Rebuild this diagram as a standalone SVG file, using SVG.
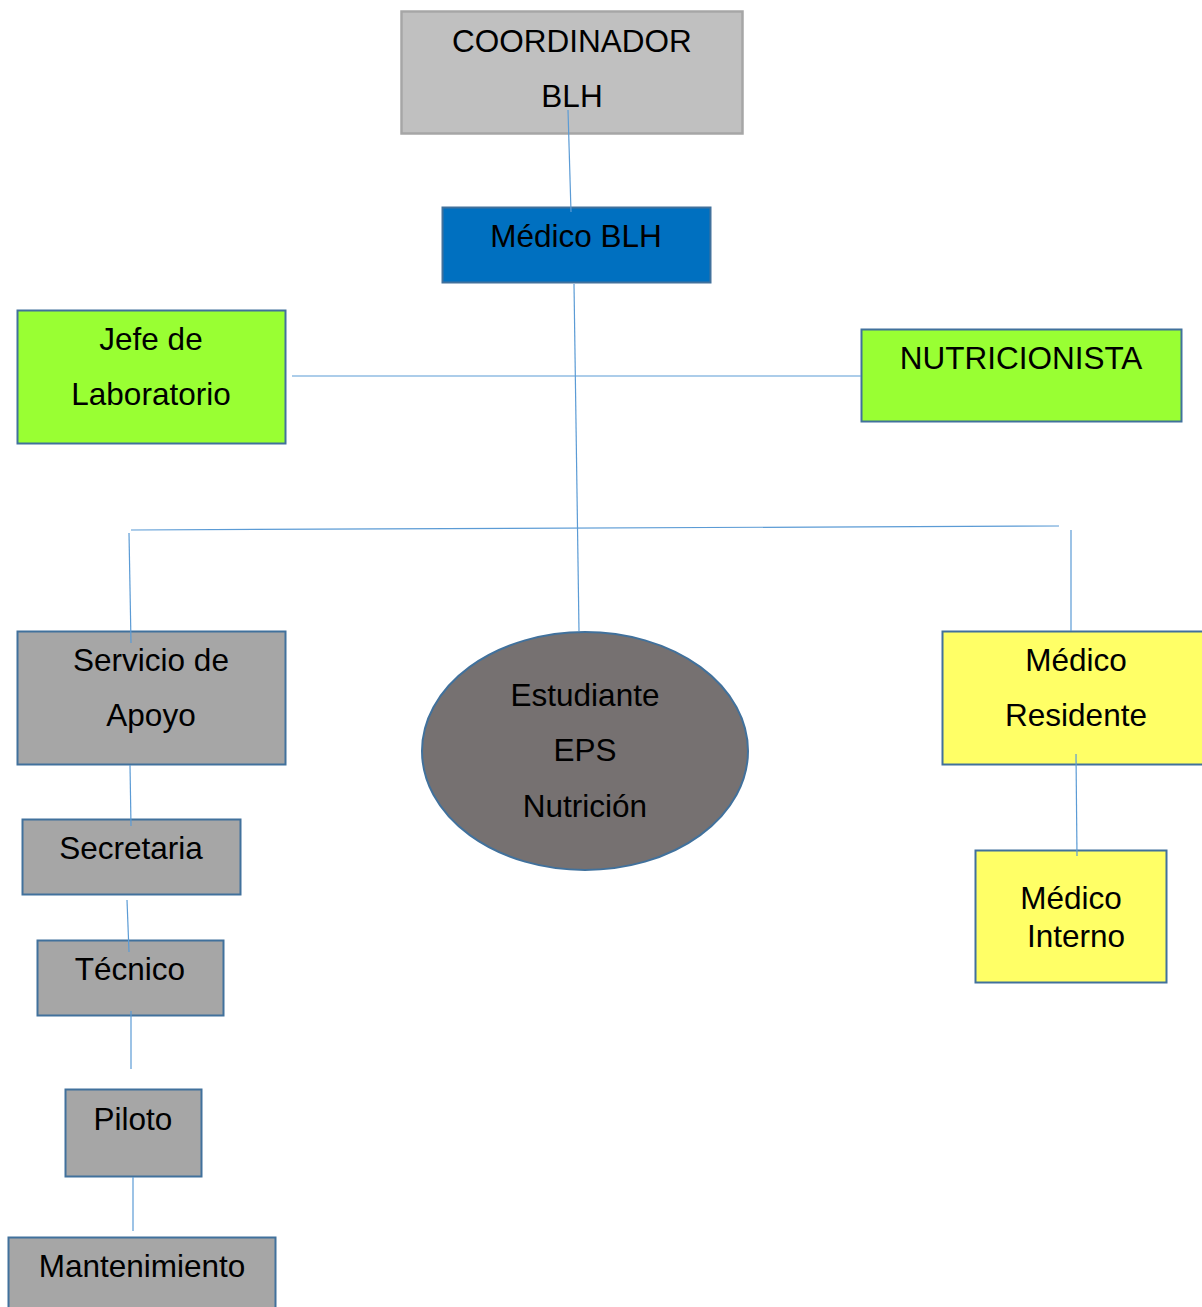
<svg xmlns="http://www.w3.org/2000/svg" width="1202" height="1307" viewBox="0 0 1202 1307">
<style>
text{font-family:"Liberation Sans",Arial,sans-serif;font-size:31.5px;fill:#000;text-anchor:middle}
.box{stroke:#41719c;stroke-width:2}
.gray{fill:#a6a6a6}
.green{fill:#99ff33}
.yellow{fill:#ffff66}
.conn line{stroke:#5b9bd5;stroke-width:1.2}
</style>
<rect width="1202" height="1307" fill="#fff"/>
<g id="coordinador">
<rect x="401.5" y="11.5" width="341" height="122" fill="#c0c0c0" stroke="#a6a6a6" stroke-width="2.5"/>
<text x="572" y="52">COORDINADOR</text>
<text x="572" y="107">BLH</text>
</g>
<g id="medico-blh">
<rect class="box" x="442.5" y="207.5" width="268" height="75" fill="#0070c0"/>
<text x="576" y="247">Médico BLH</text>
</g>
<g id="jefe-lab">
<rect class="box green" x="17.5" y="310.5" width="268" height="133"/>
<text x="151" y="350">Jefe de</text>
<text x="151" y="405">Laboratorio</text>
</g>
<g id="nutricionista">
<rect class="box green" x="861.5" y="329.5" width="320" height="92"/>
<text x="1021" y="369">NUTRICIONISTA</text>
</g>
<g id="servicio-apoyo">
<rect class="box gray" x="17.5" y="631.5" width="268" height="133"/>
<text x="151" y="671">Servicio de</text>
<text x="151" y="726">Apoyo</text>
</g>
<g id="estudiante-eps">
<ellipse cx="585" cy="751" rx="163" ry="119" fill="#767171" stroke="#41719c" stroke-width="2"/>
<text x="585" y="706">Estudiante</text>
<text x="585" y="761">EPS</text>
<text x="585" y="817">Nutrición</text>
</g>
<g id="medico-residente">
<rect class="box yellow" x="942.5" y="631.5" width="262" height="133"/>
<text x="1076" y="671">Médico</text>
<text x="1076" y="726">Residente</text>
</g>
<g id="medico-interno">
<rect class="box yellow" x="975.5" y="850.5" width="191" height="132"/>
<text x="1071" y="909">Médico</text>
<text x="1076" y="947">Interno</text>
</g>
<g id="secretaria">
<rect class="box gray" x="22.5" y="819.5" width="218" height="75"/>
<text x="131" y="859">Secretaria</text>
</g>
<g id="tecnico">
<rect class="box gray" x="37.5" y="940.5" width="186" height="75"/>
<text x="130" y="980">Técnico</text>
</g>
<g id="piloto">
<rect class="box gray" x="65.5" y="1089.5" width="136" height="87"/>
<text x="133" y="1130">Piloto</text>
</g>
<g id="mantenimiento">
<rect class="box gray" x="8.5" y="1237.5" width="267" height="80"/>
<text x="142" y="1277">Mantenimiento</text>
</g>
<g id="connectors" class="conn">
<line x1="568" y1="110" x2="571" y2="212"/>
<line x1="574" y1="284" x2="579" y2="631"/>
<line x1="292" y1="376" x2="861" y2="376"/>
<line x1="131" y1="530" x2="1059" y2="526"/>
<line x1="129" y1="533" x2="131" y2="643"/>
<line x1="1071" y1="530" x2="1071" y2="631"/>
<line x1="130" y1="765" x2="131" y2="826"/>
<line x1="127" y1="900" x2="129" y2="952"/>
<line x1="131" y1="1011" x2="131" y2="1069"/>
<line x1="133" y1="1177" x2="133" y2="1231"/>
<line x1="1076" y1="754" x2="1077" y2="856"/>
</g>
</svg>
